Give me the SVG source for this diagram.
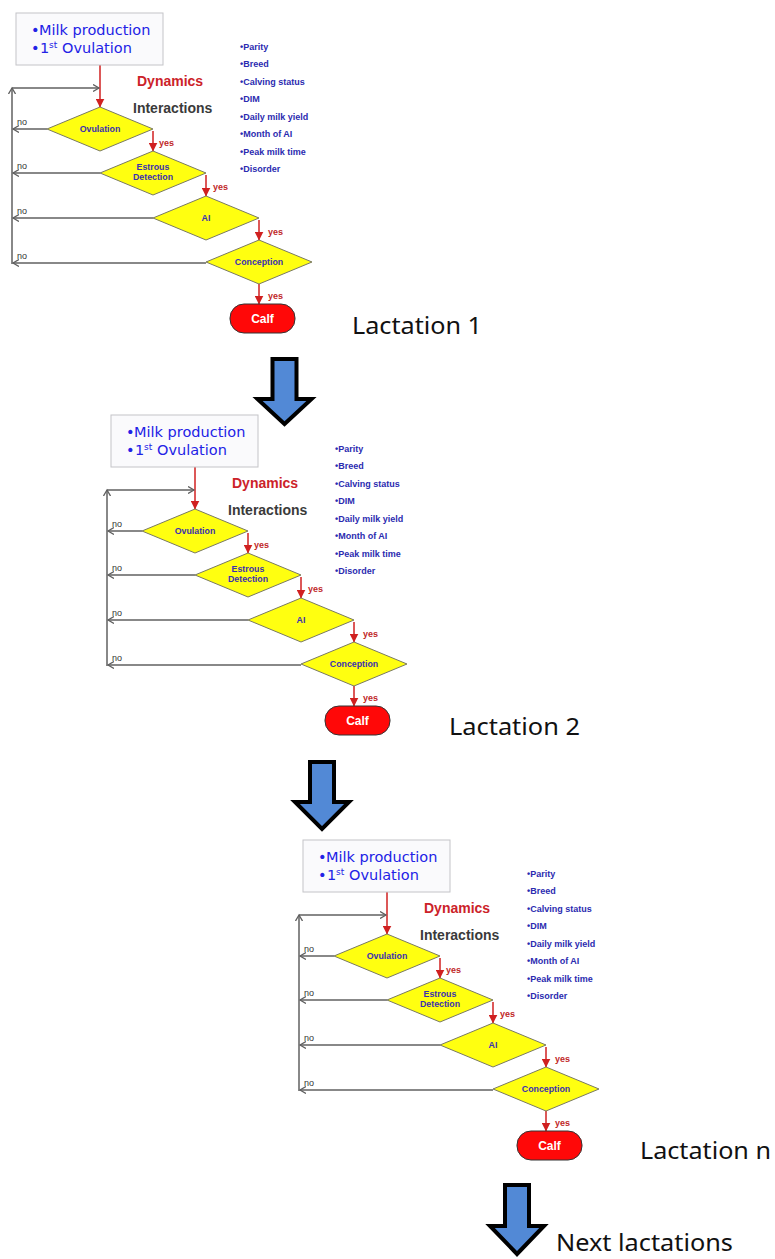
<svg xmlns="http://www.w3.org/2000/svg" width="775" height="1259" viewBox="0 0 775 1259">
<style>
.bg{fill:#ffffff}
.box{fill:#fafafc;stroke:#c4c4c8;stroke-width:1}
.bt{font-family:"DejaVu Sans",sans-serif;font-size:14.5px;fill:#2222e6}
.sup{font-size:9px}
.dyn{font-family:"Liberation Sans",Arial,sans-serif;font-size:14px;font-weight:bold;fill:#cc2229}
.int{font-family:"Liberation Sans",Arial,sans-serif;font-size:14px;font-weight:bold;fill:#3a3a3a}
.lst{font-family:"Liberation Sans",Arial,sans-serif;font-size:9px;font-weight:bold;fill:#2b2bb0}
.dia{fill:#ffff10;stroke:#7a7a60;stroke-width:1}
.dl{font-family:"Liberation Sans",Arial,sans-serif;font-size:8.8px;font-weight:bold;fill:#3a30b0;text-anchor:middle}
.red{stroke:#d02020;stroke-width:1.5;fill:none;marker-end:url(#ra)}
.gray{stroke:#606060;stroke-width:1.5;fill:none}
.ga{marker-end:url(#ga)}
.no{font-family:"Liberation Sans",Arial,sans-serif;font-size:9px;fill:#333333}
.yes{font-family:"Liberation Sans",Arial,sans-serif;font-size:9px;font-weight:bold;fill:#c02828}
.calf{fill:#ff0808;stroke:#333333;stroke-width:1}
.ct{font-family:"Liberation Sans",Arial,sans-serif;font-size:12px;font-weight:bold;fill:#ffffff;text-anchor:middle}
.lab{font-family:"Noto Sans","DejaVu Sans",sans-serif;font-size:24px;fill:#111111}
.big{fill:#5289d6;stroke:#000000;stroke-width:4;stroke-linejoin:miter}
</style>
<defs>
<marker id="ra" markerUnits="userSpaceOnUse" markerWidth="9" markerHeight="9" refX="7.5" refY="4" orient="auto" viewBox="0 0 8 8">
<path d="M0,0 L8,4 L0,8 Z" fill="#d02020"/>
</marker>
<marker id="ga" markerUnits="userSpaceOnUse" markerWidth="8" markerHeight="8" refX="6" refY="3.5" orient="auto" viewBox="0 0 8 7">
<path d="M0,0 L6,3.5 L0,7" fill="none" stroke="#606060" stroke-width="1.3"/>
</marker>
</defs>
<rect class="bg" x="0" y="0" width="775" height="1259"/>

<!-- Lactation 1 -->
<g id="lactation1">
<g id="l1-connectors">
<path class="red" d="M100,65 V107"/>
<path class="red" d="M153,131 V151"/>
<path class="red" d="M206,175 V196"/>
<path class="red" d="M259,220 V240"/>
<path class="red" d="M259,284 V304"/>
<path class="gray ga" d="M47,129 H13"/>
<path class="gray ga" d="M100,173 H13"/>
<path class="gray ga" d="M153,218 H13"/>
<path class="gray ga" d="M206,263 H13"/>
<path class="gray ga" d="M12,264 V88"/>
<path class="gray ga" d="M12,88 H99"/>
<text class="no" x="17" y="125">no</text>
<text class="no" x="17" y="169">no</text>
<text class="no" x="17" y="214">no</text>
<text class="no" x="17" y="259">no</text>
<text class="yes" x="159" y="146">yes</text>
<text class="yes" x="213" y="190">yes</text>
<text class="yes" x="268" y="235">yes</text>
<text class="yes" x="268" y="299">yes</text>
</g>
<g id="l1-box">
<rect class="box" x="16" y="13" width="147" height="52"/>
<text class="bt" y="35"><tspan x="31">•</tspan><tspan x="39">Milk production</tspan></text>
<text class="bt" y="53"><tspan x="31">•</tspan><tspan x="40">1</tspan><tspan class="sup" x="49" y="48">st</tspan><tspan x="62" y="53">Ovulation</tspan></text>
</g>
<g id="l1-dynamics"><text class="dyn" x="137" y="86">Dynamics</text></g>
<g id="l1-interactions"><text class="int" x="133" y="113">Interactions</text></g>
<g id="l1-factors">
<text class="lst" x="240" y="49.5">•Parity</text>
<text class="lst" x="240" y="67">•Breed</text>
<text class="lst" x="240" y="84.5">•Calving status</text>
<text class="lst" x="240" y="102">•DIM</text>
<text class="lst" x="240" y="119.5">•Daily milk yield</text>
<text class="lst" x="240" y="137">•Month of AI</text>
<text class="lst" x="240" y="154.5">•Peak milk time</text>
<text class="lst" x="240" y="172">•Disorder</text>
</g>
<g id="l1-ovulation"><polygon class="dia" points="47,129 100,107 153,129 100,151"/><text class="dl" x="100" y="132">Ovulation</text></g>
<g id="l1-estrous"><polygon class="dia" points="100,173 153,151 206,173 153,195"/><text class="dl" x="153" y="170">Estrous</text><text class="dl" x="153" y="180">Detection</text></g>
<g id="l1-ai"><polygon class="dia" points="153,218 206,196 259,218 206,240"/><text class="dl" x="206" y="221">AI</text></g>
<g id="l1-conception"><polygon class="dia" points="206,262 259,240 312,262 259,284"/><text class="dl" x="259" y="265">Conception</text></g>
<g id="l1-calf"><rect class="calf" x="230" y="304" width="65" height="29" rx="14" ry="14"/><text class="ct" x="262.5" y="323">Calf</text></g>
</g>
<g id="label-lactation1"><text class="lab" x="352" y="334" textLength="130" lengthAdjust="spacingAndGlyphs">Lactation 1</text></g>

<g id="arrow1"><path class="big" d="M272.5,359 H296.5 V399 H311.5 L284.5,424 L257.5,399 H272.5 Z"/></g>

<!-- Lactation 2 -->
<g id="lactation2" transform="translate(95,402)">
<g id="l2-connectors">
<path class="red" d="M100,65 V107"/>
<path class="red" d="M153,131 V151"/>
<path class="red" d="M206,175 V196"/>
<path class="red" d="M259,220 V240"/>
<path class="red" d="M259,284 V304"/>
<path class="gray ga" d="M47,129 H13"/>
<path class="gray ga" d="M100,173 H13"/>
<path class="gray ga" d="M153,218 H13"/>
<path class="gray ga" d="M206,263 H13"/>
<path class="gray ga" d="M12,264 V88"/>
<path class="gray ga" d="M12,88 H99"/>
<text class="no" x="17" y="125">no</text>
<text class="no" x="17" y="169">no</text>
<text class="no" x="17" y="214">no</text>
<text class="no" x="17" y="259">no</text>
<text class="yes" x="159" y="146">yes</text>
<text class="yes" x="213" y="190">yes</text>
<text class="yes" x="268" y="235">yes</text>
<text class="yes" x="268" y="299">yes</text>
</g>
<g id="l2-box">
<rect class="box" x="16" y="13" width="147" height="52"/>
<text class="bt" y="35"><tspan x="31">•</tspan><tspan x="39">Milk production</tspan></text>
<text class="bt" y="53"><tspan x="31">•</tspan><tspan x="40">1</tspan><tspan class="sup" x="49" y="48">st</tspan><tspan x="62" y="53">Ovulation</tspan></text>
</g>
<g id="l2-dynamics"><text class="dyn" x="137" y="86">Dynamics</text></g>
<g id="l2-interactions"><text class="int" x="133" y="113">Interactions</text></g>
<g id="l2-factors">
<text class="lst" x="240" y="49.5">•Parity</text>
<text class="lst" x="240" y="67">•Breed</text>
<text class="lst" x="240" y="84.5">•Calving status</text>
<text class="lst" x="240" y="102">•DIM</text>
<text class="lst" x="240" y="119.5">•Daily milk yield</text>
<text class="lst" x="240" y="137">•Month of AI</text>
<text class="lst" x="240" y="154.5">•Peak milk time</text>
<text class="lst" x="240" y="172">•Disorder</text>
</g>
<g id="l2-ovulation"><polygon class="dia" points="47,129 100,107 153,129 100,151"/><text class="dl" x="100" y="132">Ovulation</text></g>
<g id="l2-estrous"><polygon class="dia" points="100,173 153,151 206,173 153,195"/><text class="dl" x="153" y="170">Estrous</text><text class="dl" x="153" y="180">Detection</text></g>
<g id="l2-ai"><polygon class="dia" points="153,218 206,196 259,218 206,240"/><text class="dl" x="206" y="221">AI</text></g>
<g id="l2-conception"><polygon class="dia" points="206,262 259,240 312,262 259,284"/><text class="dl" x="259" y="265">Conception</text></g>
<g id="l2-calf"><rect class="calf" x="230" y="304" width="65" height="29" rx="14" ry="14"/><text class="ct" x="262.5" y="323">Calf</text></g>
</g>
<g id="label-lactation2"><text class="lab" x="449" y="735" textLength="131" lengthAdjust="spacingAndGlyphs">Lactation 2</text></g>

<g id="arrow2"><path class="big" d="M310,762 H334 V802 H349 L322,829 L295,802 H310 Z"/></g>

<!-- Lactation n -->
<g id="lactation3" transform="translate(287,827)">
<g id="l3-connectors">
<path class="red" d="M100,65 V107"/>
<path class="red" d="M153,131 V151"/>
<path class="red" d="M206,175 V196"/>
<path class="red" d="M259,220 V240"/>
<path class="red" d="M259,284 V304"/>
<path class="gray ga" d="M47,129 H13"/>
<path class="gray ga" d="M100,173 H13"/>
<path class="gray ga" d="M153,218 H13"/>
<path class="gray ga" d="M206,263 H13"/>
<path class="gray ga" d="M12,264 V88"/>
<path class="gray ga" d="M12,88 H99"/>
<text class="no" x="17" y="125">no</text>
<text class="no" x="17" y="169">no</text>
<text class="no" x="17" y="214">no</text>
<text class="no" x="17" y="259">no</text>
<text class="yes" x="159" y="146">yes</text>
<text class="yes" x="213" y="190">yes</text>
<text class="yes" x="268" y="235">yes</text>
<text class="yes" x="268" y="299">yes</text>
</g>
<g id="l3-box">
<rect class="box" x="16" y="13" width="147" height="52"/>
<text class="bt" y="35"><tspan x="31">•</tspan><tspan x="39">Milk production</tspan></text>
<text class="bt" y="53"><tspan x="31">•</tspan><tspan x="40">1</tspan><tspan class="sup" x="49" y="48">st</tspan><tspan x="62" y="53">Ovulation</tspan></text>
</g>
<g id="l3-dynamics"><text class="dyn" x="137" y="86">Dynamics</text></g>
<g id="l3-interactions"><text class="int" x="133" y="113">Interactions</text></g>
<g id="l3-factors">
<text class="lst" x="240" y="49.5">•Parity</text>
<text class="lst" x="240" y="67">•Breed</text>
<text class="lst" x="240" y="84.5">•Calving status</text>
<text class="lst" x="240" y="102">•DIM</text>
<text class="lst" x="240" y="119.5">•Daily milk yield</text>
<text class="lst" x="240" y="137">•Month of AI</text>
<text class="lst" x="240" y="154.5">•Peak milk time</text>
<text class="lst" x="240" y="172">•Disorder</text>
</g>
<g id="l3-ovulation"><polygon class="dia" points="47,129 100,107 153,129 100,151"/><text class="dl" x="100" y="132">Ovulation</text></g>
<g id="l3-estrous"><polygon class="dia" points="100,173 153,151 206,173 153,195"/><text class="dl" x="153" y="170">Estrous</text><text class="dl" x="153" y="180">Detection</text></g>
<g id="l3-ai"><polygon class="dia" points="153,218 206,196 259,218 206,240"/><text class="dl" x="206" y="221">AI</text></g>
<g id="l3-conception"><polygon class="dia" points="206,262 259,240 312,262 259,284"/><text class="dl" x="259" y="265">Conception</text></g>
<g id="l3-calf"><rect class="calf" x="230" y="304" width="65" height="29" rx="14" ry="14"/><text class="ct" x="262.5" y="323">Calf</text></g>
</g>
<g id="label-lactation3"><text class="lab" x="640" y="1159" textLength="131" lengthAdjust="spacingAndGlyphs">Lactation n</text></g>

<g id="arrow3"><path class="big" d="M505,1185 H529 V1226 H544 L517,1254 L490,1226 H505 Z"/></g>
<g id="label-next"><text class="lab" x="556" y="1251" font-size="23" textLength="177" lengthAdjust="spacingAndGlyphs" style="font-size:23px">Next lactations</text></g>
</svg>
